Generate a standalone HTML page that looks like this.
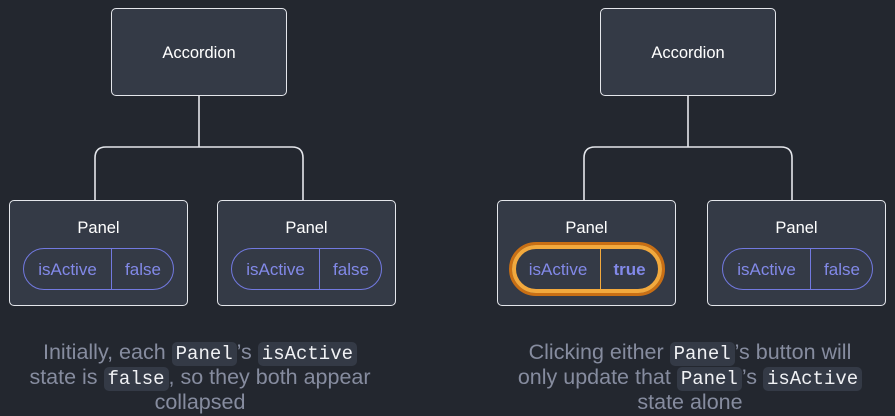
<!DOCTYPE html>
<html><head><meta charset="utf-8"><style>
html,body{margin:0;padding:0;}
body{width:895px;height:416px;background:#23272f;position:relative;overflow:hidden;font-family:"Liberation Sans",sans-serif;}
.box{position:absolute;box-sizing:border-box;border:1.5px solid #e4e6eb;border-radius:5px;background:#343a46;color:#fff;font-size:16.5px;text-align:center;}
.pill{position:absolute;box-sizing:border-box;height:42px;border:1.3px solid #7279e0;border-radius:21px;color:#8289e8;font-size:17px;}
.pill span{position:absolute;top:1px;line-height:40px;text-align:center;}
.pill .div{position:absolute;top:0;bottom:0;width:1.3px;background:#7279e0;}
.cap{position:absolute;width:460px;text-align:center;color:#868c9f;font-size:21.5px;line-height:25px;}
code{font-family:"Liberation Mono",monospace;color:#f0f1f4;background:#343a46;border-radius:5px;padding:1px 4px;font-size:19px;line-height:20px;}
</style></head><body>
<svg width="895" height="416" style="position:absolute;left:0;top:0">
<g fill="none" stroke="#e4e6eb" stroke-width="1.6">
<path d="M199 96 V147 M95 200 V158 Q95 147 106 147 H292 Q303 147 303 158 V200"/>
<path d="M688 96 V147 M584 200 V158 Q584 147 595 147 H781 Q792 147 792 158 V200"/>
</g>
<path d="M661 231 Q662 237 667 238 Q662 239 661 245 Q660 239 655 238 Q660 237 661 231Z" fill="#f6b94a"/>
<path d="M668 242 Q669 246 672 247 Q669 248 668 252 Q667 248 664 247 Q667 246 668 242Z" fill="#f6b94a"/>
</svg>
<div class="box" style="left:111px;top:8px;width:176px;height:88px;line-height:88px;">Accordion</div>
<div class="box" style="left:600px;top:8px;width:176px;height:88px;line-height:88px;">Accordion</div>

<div class="box" style="left:9px;top:200px;width:179px;height:106px;"><div style="margin-top:18px">Panel</div></div>
<div class="box" style="left:217px;top:200px;width:179px;height:106px;"><div style="margin-top:18px">Panel</div></div>
<div class="box" style="left:497px;top:200px;width:179px;height:106px;"><div style="margin-top:18px">Panel</div></div>
<div class="box" style="left:707px;top:200px;width:179px;height:106px;"><div style="margin-top:18px">Panel</div></div>

<div class="pill" style="left:23px;top:248px;width:151px;"><span style="left:0;width:87px">isActive</span><div class="div" style="left:87px"></div><span style="left:88px;width:62px">false</span></div>
<div class="pill" style="left:231px;top:248px;width:151px;"><span style="left:0;width:87px">isActive</span><div class="div" style="left:87px"></div><span style="left:88px;width:62px">false</span></div>
<div class="pill" style="left:722px;top:248px;width:151px;"><span style="left:0;width:87px">isActive</span><div class="div" style="left:87px"></div><span style="left:88px;width:62px">false</span></div>

<div style="position:absolute;left:509px;top:242px;width:156px;height:54px;box-sizing:border-box;border-radius:27px;border:3px solid #c96f14;"></div>
<div class="pill" style="left:512px;top:245px;width:150px;height:48px;border:4px solid #f2a93d;border-radius:24px;"><span style="left:0;width:84px;line-height:40px">isActive</span><div class="div" style="left:84px;background:#f2a93d"></div><span style="left:85px;width:57px;line-height:40px;font-weight:bold">true</span></div>

<div class="cap" style="left:-30px;top:340px;">Initially, each <code>Panel</code>’s <code>isActive</code><br>state is <code>false</code>, so they both appear<br>collapsed</div>
<div class="cap" style="left:460px;top:340px;">Clicking either <code>Panel</code>’s button will<br>only update that <code>Panel</code>’s <code>isActive</code><br>state alone</div>
</body></html>
